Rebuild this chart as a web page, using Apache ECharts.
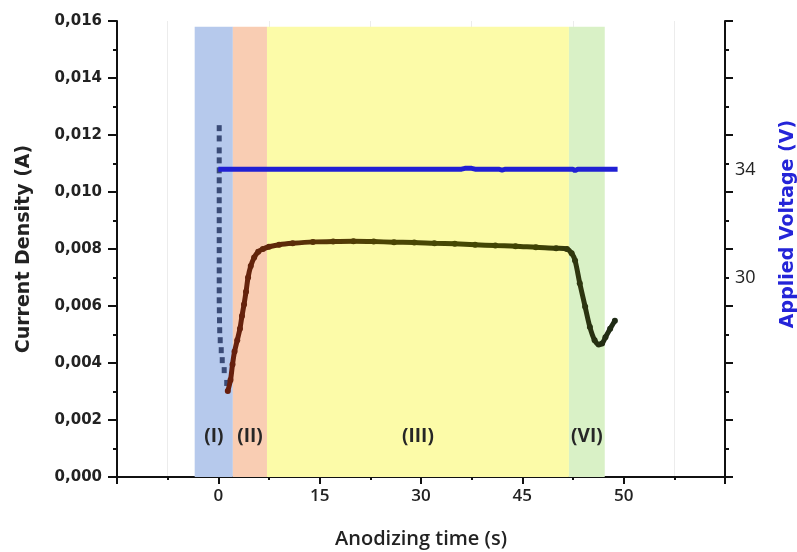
<!DOCTYPE html>
<html><head><meta charset="utf-8">
<script src="https://cdn.jsdelivr.net/npm/echarts@6/dist/echarts.min.js"></script>
<style>html,body{margin:0;padding:0;background:#fff}#c{width:797px;height:552px}</style>
</head><body><div id="c"></div>
<script>
// x-axis major tick positions (axis units, 15 per major tick) and their printed labels
const xTickValues = [0, 15, 30, 45, 60];
const xTickLabels = ['0', '15', '30', '45', '50'];
const leftTickLabels = ['0,000','0,002','0,004','0,006','0,008','0,010','0,012','0,014','0,016'];
const rightTickLabels = [30, 34];

// Regions: [start, end, label]
const regionStart = [-3.5, 2.15, 7.2, 51.9];
const regionEnd   = [2.15, 7.2, 51.9, 57.2];
const regionNames = ['(I)', '(II)', '(III)', '(VI)'];
const regionColors = ['#b6c9ec', '#f9cdb3', '#fcfba8', '#d9f1c6'];

// Stage I: steep drop (current density, A)
const dropT = [0.13,0.13,0.13,0.13,0.13,0.13,0.13,0.13,0.13,0.13,0.13,0.13,0.13,0.13,0.13,0.13,0.13,0.13,0.15,0.17,0.2,0.28,0.43,0.58,0.87,1.24];
const dropI = [0.01224,0.01188,0.01146,0.01111,0.01076,0.01041,0.01006,0.00971,0.00936,0.00901,0.00866,0.00831,0.00796,0.00760,0.00725,0.00690,0.00655,0.00620,0.00585,0.00550,0.00515,0.00480,0.00445,0.00410,0.00375,0.00330];

// Main current curve
const curT = [1.4,1.8,2.1,2.4,2.8,3.2,3.5,3.8,4.1,4.4,4.8,5.3,5.9,6.6,7.5,9,11,14,17,20,23,26,29,32,35,38,41,44,47,50,51.6,52.3,52.8,53.5,54.3,55.0,55.7,56.3,56.8,57.3,58.0,58.7];
const curI = [0.00302,0.00340,0.00395,0.00440,0.00480,0.00520,0.00565,0.00605,0.00650,0.00700,0.00740,0.00770,0.00790,0.00800,0.00808,0.00815,0.00820,0.00825,0.00826,0.00827,0.00826,0.00824,0.00823,0.00820,0.00818,0.00815,0.00812,0.00810,0.00806,0.00803,0.00800,0.00785,0.00760,0.00680,0.00597,0.00526,0.00480,0.00465,0.00468,0.00490,0.00520,0.00548];

// Applied voltage (V)
const voltT = [0, 36, 36.5, 37.5, 38, 41.5, 42, 42.5, 52.5, 52.8, 53.2, 59.1];
const voltV = [33.8, 33.8, 33.83, 33.83, 33.8, 33.8, 33.77, 33.8, 33.8, 33.75, 33.8, 33.8];

const zip = (a, b) => a.map((v, i) => [v, b[i]]);

const chart = echarts.init(document.getElementById('c'), null, {renderer: 'canvas'});
chart.setOption({
  animation: false,
  grid: {left: 117, right: 72, top: 21, bottom: 75, containLabel: false, outerBoundsMode: 'none'},
  xAxis: {
    type: 'value', min: -15, max: 75, interval: 15,
    axisLine: {onZero: false, lineStyle: {color: '#111', width: 2}},
    axisTick: {inside: false, length: 7, lineStyle: {color: '#111', width: 2}},
    minorTick: {show: true, splitNumber: 2, length: 3, lineStyle: {color: '#111', width: 2}},
    splitLine: {show: false},
    minorSplitLine: {show: true, lineStyle: {color: '#ececec', width: 1}},
    axisLabel: {
      margin: 11, color: '#222', fontFamily: 'Open Sans', fontWeight: 600, fontSize: 17,
      formatter: v => { const i = xTickValues.indexOf(v); return i >= 0 ? xTickLabels[i] : ''; }
    },
    name: 'Anodizing time (s)', nameLocation: 'middle', nameGap: 52,
    nameTextStyle: {color: '#222', fontFamily: 'Open Sans', fontWeight: 600, fontSize: 20}
  },
  yAxis: [{
    type: 'value', min: 0, max: 0.016, interval: 0.002, position: 'left',
    axisLine: {show: true, onZero: false, lineStyle: {color: '#111', width: 2}},
    axisTick: {show: true, length: 9, lineStyle: {color: '#111', width: 2}},
    minorTick: {show: true, splitNumber: 2, length: 4, lineStyle: {color: '#111', width: 2}},
    splitLine: {show: false},
    axisLabel: {
      margin: 15, color: '#222', fontFamily: 'DejaVu Sans', fontWeight: 'bold', fontSize: 15,
      formatter: v => leftTickLabels[Math.round(v / 0.002)]
    },
    name: 'Current Density (A)', nameLocation: 'middle', nameGap: 83, nameRotate: 90,
    nameTextStyle: {color: '#222', fontFamily: 'DejaVu Sans', fontWeight: 'bold', fontSize: 19}
  }, {
    type: 'value', min: 23, max: 39, interval: 2, position: 'right',
    axisLine: {show: true, onZero: false, lineStyle: {color: '#111', width: 2}},
    axisTick: {show: true, length: 8, lineStyle: {color: '#111', width: 2}},
    minorTick: {show: true, splitNumber: 2, length: 4, lineStyle: {color: '#111', width: 2}},
    splitLine: {show: false},
    axisLabel: {
      customValues: rightTickLabels, margin: 10, color: '#222', fontFamily: 'Open Sans', fontSize: 18,
      formatter: v => v === 34 ? '{d|' + v + '}' : String(v),
      rich: {d: {fontFamily: 'Open Sans', fontSize: 18, color: '#222', padding: [12, 0, 0, 0]}}
    },
    name: 'Applied Voltage (V)', nameLocation: 'middle', nameGap: 54, nameRotate: 90,
    nameTextStyle: {color: '#2424d8', fontFamily: 'DejaVu Sans', fontWeight: 'bold', fontSize: 19, padding: [0, 0, 0, 50]}
  }],
  series: [
    {
      type: 'line', data: [], silent: true,
      markArea: {
        silent: true,
        label: {position: 'insideBottom', distance: 31, color: '#262626', fontFamily: 'Open Sans', fontWeight: 'bold', fontSize: 19},
        data: regionStart.map((s, i) => [
          {xAxis: s, yAxis: 0, name: regionNames[i], itemStyle: {color: regionColors[i], opacity: 1}},
          {xAxis: regionEnd[i], yAxis: 0.0158}
        ])
      }
    },
    {
      type: 'scatter', yAxisIndex: 0, data: zip(dropT, dropI),
      symbol: 'rect', symbolSize: [5, 6], itemStyle: {color: '#1c2c5a'}, z: 4
    },
    {
      type: 'line', yAxisIndex: 0, data: zip(curT, curI), smooth: 0.3,
      symbol: 'circle', symbolSize: 6, showSymbol: true,
      lineStyle: {width: 5}, z: 5
    },
    {
      type: 'line', yAxisIndex: 1, data: zip(voltT, voltV),
      symbol: 'none', lineStyle: {color: '#2020d4', width: 5}, z: 6
    }
  ],
  visualMap: {
    show: false, type: 'continuous', seriesIndex: 2, dimension: 0, min: 0, max: 59,
    inRange: {color: ['#6a1c0e', '#5a2e08', '#4c4404', '#454804', '#3f4206', '#1e2a16']}
  }
});
</script></body></html>
